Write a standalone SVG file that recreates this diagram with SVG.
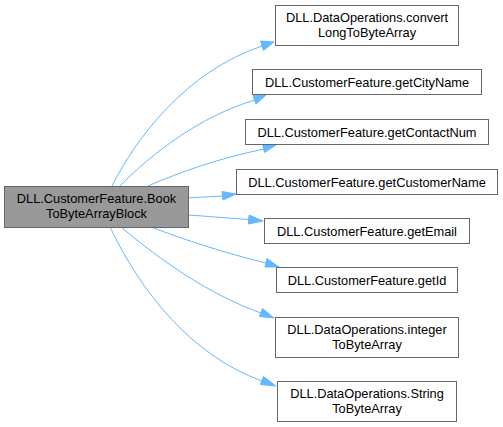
<svg xmlns="http://www.w3.org/2000/svg" width="503" height="427" viewBox="0 0 503 427">
<style>
.n rect{fill:#ffffff;stroke:#666666;stroke-width:1}
.m rect{fill:#999999;stroke:#666666;stroke-width:1}
text{font-family:"Liberation Sans",Arial,sans-serif;font-size:12.8px;fill:#000000;text-anchor:middle}
.e path{fill:none;stroke:#63b8ff;stroke-width:1}
.e polygon{fill:#63b8ff;stroke:#63b8ff;stroke-width:1}
</style>
<rect width="503" height="427" fill="#ffffff"/>
<g id="edges" class="e">
<path d="M112,186 C135,140 185,72 262,46"/>
<polygon points="260.5,41 274,42 263.5,50.5"/>
<path d="M120,186 C150,155 200,116 255,100"/>
<polygon points="253,95.5 266,95 256,104"/>
<path d="M148,186 C180,172 220,158 264,149"/>
<polygon points="262.5,144 276,145 264.5,152.5"/>
<path d="M188,198 C198,197 208,197 223,196"/>
<polygon points="222,191.5 236,194 223,200"/>
<path d="M188,215 C205,216 225,218 249,219.5"/>
<polygon points="249,215 263,221 248.5,224"/>
<path d="M151,227 C185,240 225,253 266,263"/>
<polygon points="267,258.5 279,267 265,267"/>
<path d="M121,227 C160,260 210,295 261,313"/>
<polygon points="262.5,308.5 274,318 259.5,316.5"/>
<path d="M110,227 C140,290 190,355 262,381"/>
<polygon points="263.5,376.5 276,386 260.5,384.5"/>
</g>
<g id="node_main" class="m">
<rect x="4.5" y="186.5" width="184" height="41"/>
<text x="96.5" y="203">DLL.CustomerFeature.Book</text>
<text x="96.5" y="218">ToByteArrayBlock</text>
</g>
<g id="node_convertLong" class="n">
<rect x="275.5" y="5.5" width="183" height="40"/>
<text x="367" y="22">DLL.DataOperations.convert</text>
<text x="367" y="37">LongToByteArray</text>
</g>
<g id="node_getCityName" class="n">
<rect x="252.5" y="69.5" width="229" height="25"/>
<text x="367" y="86.5">DLL.CustomerFeature.getCityName</text>
</g>
<g id="node_getContactNum" class="n">
<rect x="245.5" y="119.5" width="243" height="25"/>
<text x="367" y="136.5">DLL.CustomerFeature.getContactNum</text>
</g>
<g id="node_getCustomerName" class="n">
<rect x="236.5" y="169.5" width="261" height="25"/>
<text x="367" y="186.5">DLL.CustomerFeature.getCustomerName</text>
</g>
<g id="node_getEmail" class="n">
<rect x="264.5" y="218.5" width="205" height="25"/>
<text x="367" y="235.5">DLL.CustomerFeature.getEmail</text>
</g>
<g id="node_getId" class="n">
<rect x="276.5" y="267.5" width="181" height="25"/>
<text x="367" y="284.5">DLL.CustomerFeature.getId</text>
</g>
<g id="node_integerToByteArray" class="n">
<rect x="275.5" y="317.5" width="183" height="40"/>
<text x="367" y="334">DLL.DataOperations.integer</text>
<text x="367" y="349">ToByteArray</text>
</g>
<g id="node_StringToByteArray" class="n">
<rect x="277.5" y="381.5" width="179" height="40"/>
<text x="367" y="398">DLL.DataOperations.String</text>
<text x="367" y="413">ToByteArray</text>
</g>
</svg>
